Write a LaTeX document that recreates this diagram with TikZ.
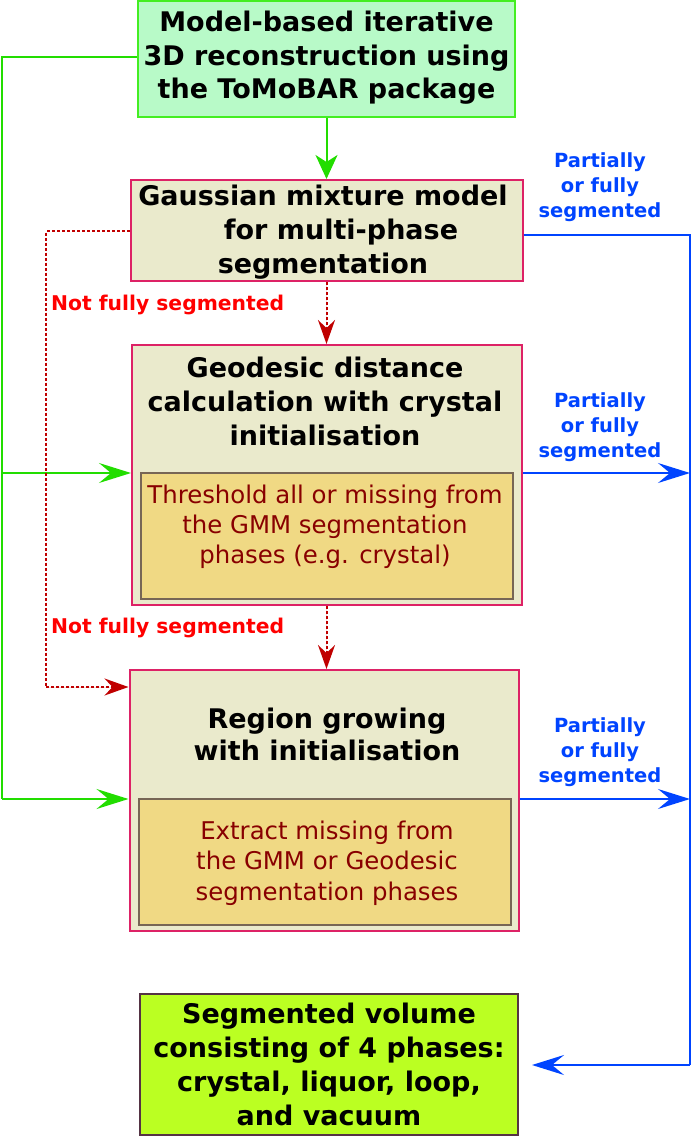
\documentclass[tikz,border=0pt]{standalone}
\usepackage{fontspec}
\setmainfont{DejaVu Sans}
\usetikzlibrary{arrows.meta}
\definecolor{topfill}{HTML}{B8FAC8}
\definecolor{topdraw}{HTML}{44EE22}
\definecolor{boxfill}{HTML}{EAEACC}
\definecolor{boxdraw}{HTML}{DD2266}
\definecolor{infill}{HTML}{F0D984}
\definecolor{indraw}{HTML}{776655}
\definecolor{intext}{HTML}{880000}
\definecolor{finfill}{HTML}{BBFF22}
\definecolor{findraw}{HTML}{553344}
\definecolor{myblue}{HTML}{0044FF}
\definecolor{myred}{HTML}{FF0000}
\definecolor{dred}{HTML}{C00000}
\definecolor{mygreen}{HTML}{22DD00}
\definecolor{dgreen}{HTML}{22AA00}
\tikzset{
  box/.style={draw=boxdraw, fill=boxfill, line width=2pt, inner sep=0pt},
  inbox/.style={draw=indraw, fill=infill, line width=1.4pt, inner sep=0pt},
  head/.style={font=\bfseries\fontsize{27}{34}\selectfont, align=center, text=black, inner sep=0pt},
  body/.style={font=\fontsize{24.4}{30.5}\selectfont, align=center, text=intext, inner sep=0pt},
  blab/.style={font=\bfseries\fontsize{19.5}{25}\selectfont, align=center, text=myblue, inner sep=0pt},
  rlab/.style={font=\bfseries\fontsize{20.3}{24}\selectfont, text=myred, anchor=west, inner sep=0pt},
  arrbig/.style={-{Stealth[length=32pt,width=20pt,inset=12pt]}},
  arrred/.style={-{Stealth[length=24pt,width=17pt,inset=8pt]}},
  arrtop/.style={-{Stealth[length=24pt,width=22pt,inset=7pt]}},
  gline/.style={draw=mygreen, line width=2pt},
  bline/.style={draw=myblue, line width=2pt},
  rline/.style={draw=dred, line width=2pt, dash pattern=on 3pt off 2pt},
}
\begin{document}
\begin{tikzpicture}[x=1pt,y=-1pt]
\useasboundingbox (0,0) rectangle (692,1136);
% boxes
\node[draw=topdraw, fill=topfill, line width=2pt, minimum width=377pt, minimum height=116pt] (top) at (326.5,59) {};
\node[head, font=\bfseries\fontsize{27}{33.5}\selectfont] (topt) at (326.5,58) {Model-based iterative\\3D reconstruction using\\the ToMoBAR package};
\node[box, minimum width=392pt, minimum height=101pt] (gmm) at (326.5,230.5) {};
\node[head] (gmmt) at (323,232) {Gaussian mixture model\\\hspace*{36pt}for multi-phase\\segmentation};
\node[box, minimum width=390pt, minimum height=260pt] (geo) at (327,475) {};
\node[head] (geot) at (325,401.5) {Geodesic distance\\calculation with crystal\\initialisation};
\node[inbox, minimum width=372pt, minimum height=126pt] (geoin) at (327,536) {};
\node[body, font=\fontsize{24.4}{30}\selectfont] (geob) at (325,526.5) {Threshold all or missing from\\the GMM segmentation\\phases (e.g. crystal)};
\node[box, minimum width=389pt, minimum height=261pt] (reg) at (324,800.5) {};
\node[head, font=\bfseries\fontsize{27}{32}\selectfont] (regt) at (327,734) {Region growing\\with initialisation};
\node[inbox, minimum width=372pt, minimum height=126pt] (regin) at (325,862) {};
\node[body] (regb) at (327,863) {Extract missing from\\the GMM or Geodesic\\segmentation phases};
\node[draw=findraw, fill=finfill, line width=2pt, minimum width=378pt, minimum height=141pt] (fin) at (329,1064.5) {};
\node[head] (fint) at (329,1064) {Segmented volume\\consisting of 4 phases:\\crystal, liquor, loop,\\and vacuum};
% labels
\node[blab] (l1) at (600,187) {Partially\\or fully\\segmented};
\node[blab] (l2) at (600,427) {Partially\\or fully\\segmented};
\node[blab] (l3) at (600,752) {Partially\\or fully\\segmented};
\node[rlab] (r1) at (51,305) {Not fully segmented};
\node[rlab] (r2) at (51,628) {Not fully segmented};
% coordinates
\coordinate (g0) at (2,57);
\coordinate (g1) at (2,473);
\coordinate (g2) at (2,799);
\coordinate (rd0) at (46,231);
\coordinate (rd1) at (46,687);
\coordinate (b0) at (690,235);
\coordinate (b1) at (690,473);
\coordinate (b2) at (690,799);
\coordinate (b3) at (690,1065);
% green
\draw[gline, arrtop, fill=mygreen] (top.south) -- (top.south |- gmm.north);
\draw[gline] (top.west |- g0) -- (g0) -- (g2);
\draw[gline, arrbig, fill=dgreen] (g1) -- (geo.west |- g1);
\draw[gline, arrbig, fill=mygreen] (g2) -- (reg.west |- g2);
% red dotted
\draw[rline] (gmm.west |- rd0) -- (rd0) -- (rd1);
\draw[rline, arrred, fill=dred] (rd1) -- (reg.west |- rd1);
\draw[rline, arrred, fill=dred] (gmm.south) -- (gmm.south |- geo.north);
\draw[rline, arrred, fill=dred] (gmm.south |- geo.south) -- (gmm.south |- reg.north);
% blue
\draw[bline] (gmm.east |- b0) -- (b0) -- (b3);
\draw[bline, arrbig, fill=myblue] (geo.east |- b1) -- (b1);
\draw[bline, arrbig, fill=myblue] (reg.east |- b2) -- (b2);
\draw[bline, arrbig, fill=myblue, shorten >=13pt] (b3) -- (fin.east |- b3);
\end{tikzpicture}
\end{document}
